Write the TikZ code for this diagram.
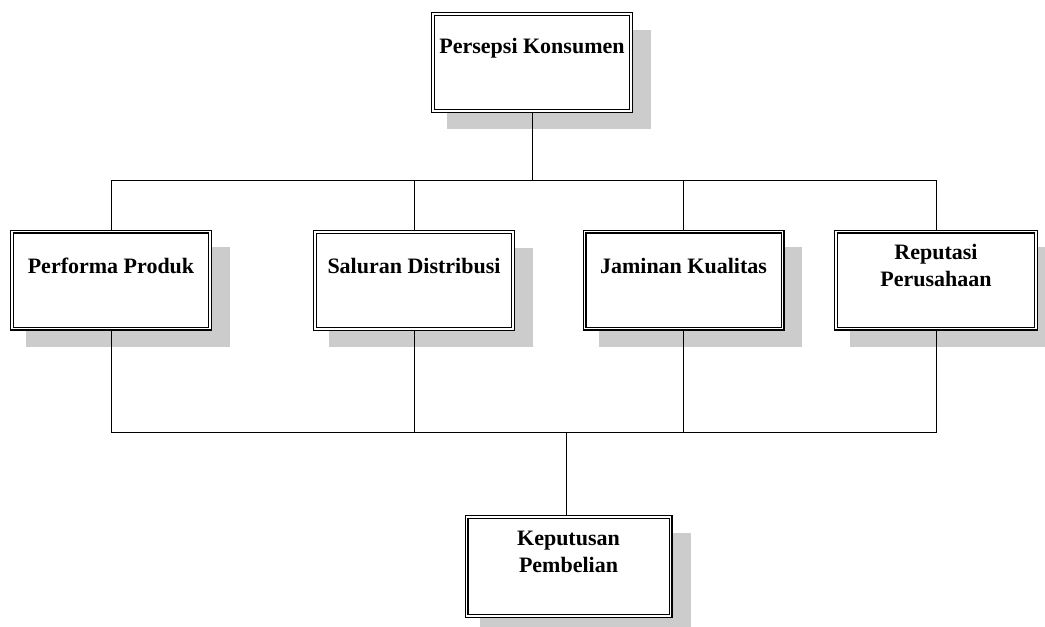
\documentclass[tikz,border=0pt]{standalone}
\usepackage{fontspec}
\setmainfont{Liberation Serif}
\usetikzlibrary{shadows}

\begin{document}
\begin{tikzpicture}[x=0.5pt, y=-0.5pt, line width=0.5pt,
    box/.style={draw, double, double distance=0.8pt, line width=0.6pt, fill=white, inner sep=0pt,
      minimum width=99pt, minimum height=48.5pt,
      drop shadow={shadow xshift=8.25pt, shadow yshift=-8.25pt, shadow scale=1.03, fill=black!20, opacity=1}},
    boxtext/.style={font=\fontsize{11}{13.5}\selectfont\bfseries, align=center, yshift=7.25pt}]
  \useasboundingbox (0,0) rectangle (1045,627);
  \node[box, label={[boxtext]center:Persepsi Konsumen}] (pk) at (532,62.5) {};
  \node[box, label={[boxtext]center:Performa Produk}] (pp) at (111,280) {};
  \node[box, label={[boxtext]center:Saluran Distribusi}] (sd) at (414,280.5) {};
  \node[box, label={[boxtext]center:Jaminan Kualitas}] (jk) at (683.5,280) {};
  \node[box, minimum width=100pt, label={[boxtext]center:Reputasi\\Perusahaan}] (rp) at (936,280) {};
  \node[box, minimum width=102pt, minimum height=49.5pt, label={[boxtext]center:Keputusan\\Pembelian}] (kp) at (568.5,566.5) {};
  \coordinate (upbus) at (0,180);
  \coordinate (lowbus) at (0,432);
  \coordinate (kj) at (566,432);
  \draw (pk.south) -- (pk.south |- upbus);
  \draw (pp.north) -- (pp.north |- upbus) -- (rp.north |- upbus) -- (rp.north);
  \foreach \n in {sd,jk} \draw (\n.north) -- (\n.north |- upbus);
  \draw (pp.south) -- (pp.south |- lowbus) -- (rp.south |- lowbus) -- (rp.south);
  \foreach \n in {sd,jk} \draw (\n.south) -- (\n.south |- lowbus);
  \draw (kj) -- (kj |- kp.north);
\end{tikzpicture}
\end{document}
